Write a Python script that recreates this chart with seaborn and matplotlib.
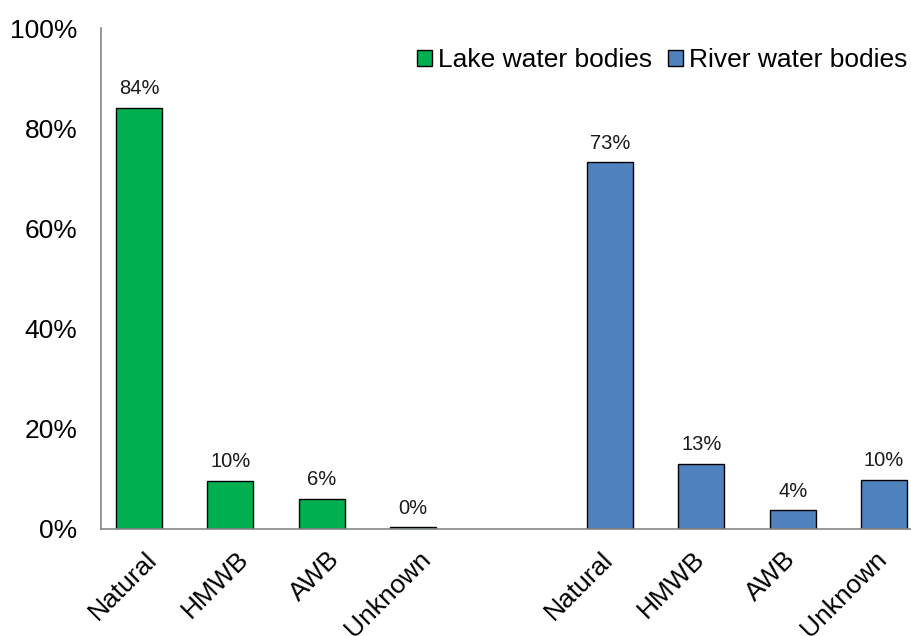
import numpy as np
import pandas as pd
import matplotlib
matplotlib.use('Agg')
import matplotlib.pyplot as plt
import matplotlib.transforms as mtransforms
from matplotlib.patches import Patch
import seaborn as sns

# Values (percent of water bodies)
types = ['Natural', 'HMWB', 'AWB', 'Unknown']
lake = [84.0, 9.6, 6.0, 0.3]
river = [73.2, 13.0, 3.7, 9.8]
groups = ['Lake water bodies', 'River water bodies']
colors = ['#00B050', '#4F81BD']

# 9 slots: four lake types, an empty gap, four river types
slots = ['L ' + t for t in types] + ['gap'] + ['R ' + t for t in types]
tick_labels = types + [''] + types

df = pd.DataFrame({
    'slot': slots[:4] + slots[5:],
    'group': [groups[0]] * 4 + [groups[1]] * 4,
    'share': lake + river,
})

sns.set_style('white')
plt.rcParams['font.family'] = ['Liberation Sans', 'DejaVu Sans']
axis_grey = '#868686'

fig = plt.figure(figsize=(9.12, 6.36), dpi=100)
ax = fig.add_axes([101 / 912, 107 / 636, 821 / 912, 501 / 636])

sns.barplot(data=df, x='slot', y='share', hue='group', order=slots,
            hue_order=groups, palette=colors, saturation=1, dodge=False,
            width=0.505, edgecolor='black', linewidth=1, legend=False, ax=ax)

# Excel-style clustered bars: lake bar sits a bit left, river bar a bit right
for cont, shift, vals in zip(ax.containers, [-0.082, 0.082], [lake, river]):
    for bar in cont:
        bar.set_x(bar.get_x() + shift)
    ax.bar_label(cont, labels=[f'{v:.0f}%' for v in vals], padding=7,
                 fontsize=14.5, color='#1a1a1a')

ax.set_xlim(-0.5, 8.5)
ax.set_ylim(0, 100)
ax.set_yticks(np.arange(0, 101, 20))
ax.set_yticklabels([f'{v}%' for v in range(0, 101, 20)], fontsize=19,
                   color='black')
ax.set_xticks(range(9))
ax.set_xticklabels(tick_labels, fontsize=19, rotation=45, ha='right',
                   rotation_mode='anchor', color='black')
ax.set_xticks(np.arange(-0.5, 9, 1), minor=True)
ax.tick_params(axis='x', which='major', length=0, pad=13)
ax.tick_params(axis='x', which='minor', length=6, color=axis_grey, width=1.2)
ax.tick_params(axis='y', length=6, color=axis_grey, width=1.2, pad=11)
offset = mtransforms.ScaledTranslation(-2 / 100, 0, fig.dpi_scale_trans)
for lab in ax.get_xticklabels():
    lab.set_transform(lab.get_transform() + offset)

ax.set_xlabel('')
ax.set_ylabel('')
sns.despine(ax=ax)
for side in ['left', 'bottom']:
    ax.spines[side].set_color(axis_grey)
    ax.spines[side].set_linewidth(1.2)

handles = [Patch(facecolor=c, edgecolor='black', linewidth=1) for c in colors]
ax.legend(handles, groups, loc='upper right',
          bbox_to_anchor=((913 - 101) / 821, (529 - 43) / 501), ncol=2,
          frameon=False, fontsize=19, labelcolor='black', handlelength=0.55,
          handleheight=0.55, handletextpad=0.25, columnspacing=0.6,
          borderaxespad=0, borderpad=0.2)

fig.savefig('out.png', dpi=100)
